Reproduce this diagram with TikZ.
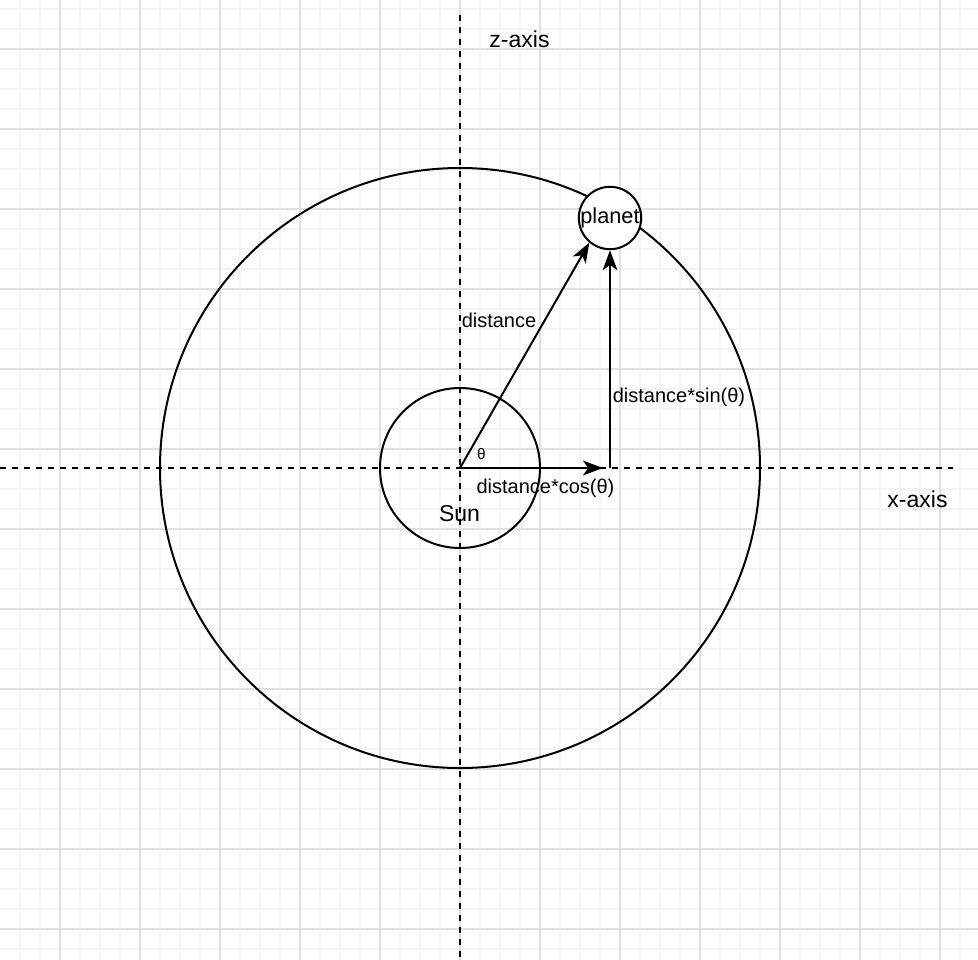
\documentclass[tikz,border=0pt]{standalone}
\usepackage{fontspec}
\setmainfont{Liberation Sans}
\usetikzlibrary{arrows.meta}
\definecolor{gridminor}{RGB}{244,244,244}
\definecolor{gridmajor}{RGB}{224,224,224}
\tikzset{
  minorline/.style={draw=gridminor, line width=1.2pt},
  majorline/.style={draw=gridmajor, line width=1.3pt},
  axisline/.style={draw=black, line width=1.5pt, dash pattern=on 4.5pt off 4.5pt},
  body/.style={circle, draw=black, line width=1.5pt, inner sep=0pt},
  vec/.style={draw=black, line width=1.5pt, -{Stealth[length=15pt, width=11pt, inset=4pt]}},
  bigtxt/.style={inner sep=0pt, anchor=base, font=\fontsize{17.25pt}{20pt}\selectfont},
  lbltxt/.style={inner sep=0pt, anchor=base, font=\fontsize{15pt}{18pt}\selectfont},
  thtxt/.style={inner sep=0pt, anchor=base, font=\fontsize{11.5pt}{13pt}\selectfont}
}
\begin{document}
\begin{tikzpicture}[x=0.75pt, y=-0.75pt]
\useasboundingbox (0,0) rectangle (978,960);
\fill[white] (0,0) rectangle (978,960);
% grid
\foreach \gx in {20,40,...,960} {\draw[minorline] (\gx,0) -- (\gx,960);}
\foreach \gy in {9,29,...,949} {\draw[minorline] (0,\gy) -- (978,\gy);}
\foreach \gx in {60,140,...,940} {\draw[majorline] (\gx,0) -- (\gx,960);}
\foreach \gy in {49,129,...,929} {\draw[majorline] (0,\gy) -- (978,\gy);}
% axes
\coordinate (xl) at (0,468);
\coordinate (xr) at (953,468);
\coordinate (zt) at (460,15);
\coordinate (zb) at (460,960);
\draw[axisline] (xl) -- (xr);
\draw[axisline] (zt) -- (zb);
% bodies
\node[body, minimum size=450pt] (orbit) at (460,468) {};
\node[body, minimum size=120pt] (sun) at (460,468) {};
\node[body, fill=white, minimum size=45pt, font=\fontsize{16.3pt}{18pt}\selectfont] (planet) at (610,218) {planet};
% vectors
\coordinate (cosend) at (603,468);
\coordinate (foot) at (610,468);
\draw[vec] (sun.center) -- (planet.230);
\draw[vec] (sun.center) -- (cosend);
\draw[vec] (foot) -- (planet.south);
% texts
\node[bigtxt] (zlabel) at (519.5,47) {z-axis};
\node[bigtxt] (xlabel) at (917.5,507) {x-axis};
\node[bigtxt] (sunlabel) at (459.5,521) {Sun};
\node[lbltxt] (dlabel) at (499,327) {distance};
\node[lbltxt] (sinlabel) at (679,402) {distance*sin(θ)};
\node[lbltxt] (coslabel) at (545.5,493) {distance*cos(θ)};
\node[thtxt] (thlabel) at (481.5,459) {θ};
\end{tikzpicture}
\end{document}
